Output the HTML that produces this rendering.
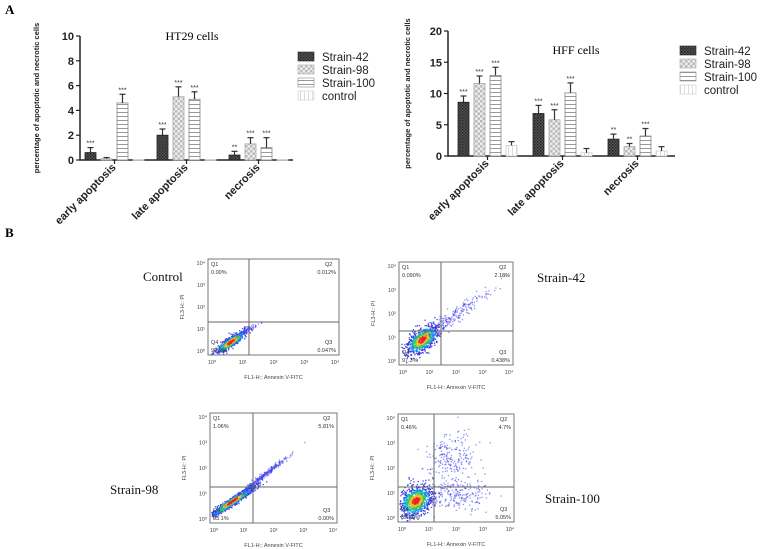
<!DOCTYPE html>
<html><head><meta charset="utf-8">
<style>
html,body{margin:0;padding:0;background:#fff;}
svg{display:block;font-family:"Liberation Sans",sans-serif;}
.serif{font-family:"Liberation Serif",serif;}
</style></head>
<body>
<svg id="fig" width="760" height="549" viewBox="0 0 760 549">
<defs>
<pattern id="p42" width="3" height="3" patternUnits="userSpaceOnUse"><rect width="3" height="3" fill="#555"/><rect width="1.5" height="1.5" fill="#222"/><rect x="1.5" y="1.5" width="1.5" height="1.5" fill="#333"/></pattern>
<pattern id="p98" width="5" height="5" patternUnits="userSpaceOnUse"><rect width="5" height="5" fill="#eee"/><rect width="2.5" height="2.5" fill="#bbb"/><rect x="2.5" y="2.5" width="2.5" height="2.5" fill="#bbb"/></pattern>
<pattern id="p100" width="4" height="4" patternUnits="userSpaceOnUse"><rect width="4" height="4" fill="#fff"/><rect width="4" height="1" fill="#999"/></pattern>
<pattern id="pctl" width="4" height="4" patternUnits="userSpaceOnUse"><rect width="4" height="4" fill="#fff"/><rect width="1" height="4" fill="#ddd"/></pattern>
</defs>
<text x="5" y="14" class="serif" font-size="13" font-weight="bold">A</text>
<text x="5" y="237" class="serif" font-size="13" font-weight="bold">B</text>
<g id="c1"></g>
<g id="c2"></g>
<g id="flows"></g>
</svg>
<script>
const categories = ["early apoptosis","late apoptosis","necrosis"];
const seriesNames = ["Strain-42","Strain-98","Strain-100","control"];
const ht29Values = [[0.6,2.0,0.4],[0.1,5.1,1.3],[4.6,4.9,1.0],[0.05,0.05,0.05]];
const ht29Errors = [[0.4,0.5,0.3],[0.1,0.8,0.5],[0.7,0.6,0.8],[0,0,0]];
const ht29Stars = [["***","***","**"],["","***","***"],["***","***","***"],["","",""]];
const ht29Ticks = [0,2,4,6,8,10];
const hffValues = [[8.6,6.8,2.7],[11.6,5.8,1.5],[12.9,10.1,3.2],[1.7,0.5,0.8]];
const hffErrors = [[1.0,1.3,0.8],[1.2,1.6,0.5],[1.3,1.6,1.2],[0.6,0.7,0.7]];
const hffStars = [["***","***","**"],["***","***","**"],["***","***","***"],["","",""]];
const hffTicks = [0,5,10,15,20];
const fills = ["url(#p42)","url(#p98)","url(#p100)","url(#pctl)"];
const strokes = ["#222","#aaa","#888","#ccc"];
const NS="http://www.w3.org/2000/svg";
function mk(parent,tag,attrs,txt){const e=document.createElementNS(NS,tag);for(const k in attrs)e.setAttribute(k,attrs[k]);if(txt!==undefined)e.textContent=txt;parent.appendChild(e);return e;}

function barChart(g,cfg,values,errors,stars,ticks){
  const y=v=>cfg.y0-(v/cfg.ymax)*(cfg.y0-cfg.ytop);
  const x=(c,s)=>cfg.x0+cfg.first+c*cfg.gstep+s*cfg.bstep;
  let t=mk(g,"text",{x:cfg.titleX,y:cfg.titleY,"font-size":12,"text-anchor":"middle","class":"serif"},cfg.title);
  
  
  let yl=mk(g,"text",{transform:`translate(${cfg.ylX},${(cfg.y0+cfg.ytop)/2}) rotate(-90)`,"font-size":7.5,"font-weight":"bold","text-anchor":"middle",fill:"#222"},"percentage of apoptotic and necrotic cells");
  
  
  let ax=mk(g,"path",{d:`M${cfg.x0},${cfg.ytop} V${cfg.y0} H${cfg.xend}`,stroke:"#222","stroke-width":1.5,fill:"none"});
  
  
  ticks.forEach(v=>{
    mk(g,"line",{x1:cfg.x0-4,x2:cfg.x0,y1:y(v),y2:y(v),stroke:"#222","stroke-width":1.2});
    let tl=mk(g,"text",{x:cfg.x0-6,y:y(v)+4,"font-size":11,"font-weight":"bold","text-anchor":"end",fill:"#222"},v);
    
    
  });
  categories.forEach((c,ci)=>{
    const cx=x(ci,0)+cfg.bstep*1.5+cfg.bw/2;
    mk(g,"line",{x1:cx,x2:cx,y1:cfg.y0,y2:cfg.y0+4,stroke:"#222","stroke-width":1.2});
    let cl=mk(g,"text",{transform:`translate(${cx+2},${cfg.y0+8}) rotate(-45)`,"font-size":11,"font-weight":"bold","text-anchor":"end",fill:"#222"},c);
    
    
  });
  values.forEach((ser,si)=>{ser.forEach((v,ci)=>{
    const bx=x(ci,si),top=y(v);
    let r=mk(g,"rect",{x:bx,y:top,width:cfg.bw,height:Math.max(cfg.y0-top,1),fill:fills[si],stroke:strokes[si],"stroke-width":0.8});
    
    
    const e=errors[si][ci];
    if(e>0){const ey=y(v+e);const mx=bx+cfg.bw/2;
      mk(g,"line",{x1:mx,x2:mx,y1:top,y2:ey,stroke:"#333","stroke-width":1.2});
      mk(g,"line",{x1:mx-3,x2:mx+3,y1:ey,y2:ey,stroke:"#333","stroke-width":1.2});}
    const s=stars[si][ci];
    if(s){let st=mk(g,"text",{x:bx+cfg.bw/2,y:y(v+e)-2,"font-size":7,"text-anchor":"middle",fill:"#333"},s);
      
      }
  });});
  seriesNames.forEach((n,si)=>{
    const ly=cfg.legY+si*13;
    let sw=mk(g,"rect",{x:cfg.legX,y:ly-5,width:16,height:9,fill:fills[si],stroke:strokes[si],"stroke-width":0.6});
    
    
    let lt=mk(g,"text",{x:cfg.legX+24,y:ly+4,"font-size":11.5,fill:"#222"},n);
    
    
  });
}
barChart(document.getElementById("c1"),{x0:80,y0:160,ytop:36,ymax:10,xend:293,first:5,gstep:72,bstep:16,bw:11,title:"HT29 cells",titleX:192,titleY:40,ylX:39,legX:298,legY:57},ht29Values,ht29Errors,ht29Stars,ht29Ticks);
barChart(document.getElementById("c2"),{x0:448,y0:156,ytop:31,ymax:20,xend:675,first:10,gstep:75,bstep:16,bw:11,title:"HFF cells",titleX:576,titleY:54,ylX:410,legX:680,legY:51},hffValues,hffErrors,hffStars,hffTicks);

// flow cytometry plots; blobs: [cx, cy, sx, sy, rho, n, heat]
const plots=[
 {name:"control",l:208,t:259,r:339,b:355,vx:249,hy:322,q:["0.00%","0.012%","0.047%","99.9%"],label:"Control",lx:143,ly:281,
  cloud:[[0.17,0.86,0.06,0.06,-0.9,700,1],[0.28,0.74,0.04,0.03,-0.8,60,0]]},
 {name:"strain-42",l:399,t:262,r:513,b:365,vx:441,hy:331,q:["0.090%","2.18%","0.438%","97.3%"],label:"Strain-42",lx:537,ly:282,
  cloud:[[0.2,0.75,0.07,0.07,-0.6,800,1],[0.5,0.5,0.15,0.12,-0.95,220,0]]},
 {name:"strain-98",l:210,t:413,r:337,b:523,vx:253,hy:487,q:["1.06%","5.81%","0.00%","93.1%"],label:"Strain-98",lx:110,ly:494,
  cloud:[[0.17,0.8,0.09,0.07,-0.96,900,1],[0.4,0.58,0.1,0.09,-0.99,350,0]]},
 {name:"strain-100",l:398,t:414,r:514,b:522,vx:434,hy:487,q:["0.46%","4.7%","5.05%","89.79%"],label:"Strain-100",lx:545,ly:503,
  cloud:[[0.15,0.8,0.07,0.07,-0.3,900,1],[0.45,0.4,0.11,0.12,0,220,0],[0.52,0.74,0.14,0.07,0,220,0]]}
];
let seed=7;function rnd(){seed=(seed*16807)%2147483647;return seed/2147483647;}
function gauss(){return Math.sqrt(-2*Math.log(rnd()+1e-9))*Math.cos(2*Math.PI*rnd());}
const fg=document.getElementById("flows");
plots.forEach(p=>{
  const g=mk(fg,"g",{});
  
  
  const W=p.r-p.l,H=p.b-p.t;
  p.cloud.forEach(c=>{
    const pts=[];
    for(let i=0;i<c[5];i++){
      const u=gauss(),v=gauss();
      const fx=c[0]+c[2]*u, fy=c[1]+c[3]*(c[4]*u+Math.sqrt(1-c[4]*c[4])*v);
      if(fx<0.01||fx>0.99||fy<0.01||fy>0.99)continue;
      const d=Math.sqrt(u*u+v*v);
      pts.push([fx,fy,d]);
    }
    pts.sort((a,b)=>b[2]-a[2]);
    pts.forEach(pt=>{
      const d=pt[2];
      const col=c[6]?(d<0.45?"#e22":d<0.8?"#eb2":d<1.15?"#3c5":d<1.6?"#19e":"#33d"):"#44e";
      mk(g,"rect",{x:p.l+pt[0]*W,y:p.t+pt[1]*H,width:1.3,height:1.3,fill:col,opacity:c[6]?0.9:0.6});
    });
  });
  mk(g,"rect",{x:p.l,y:p.t,width:W,height:H,fill:"none",stroke:"#777","stroke-width":1});
  mk(g,"line",{x1:p.vx,x2:p.vx,y1:p.t,y2:p.b,stroke:"#666","stroke-width":1});
  mk(g,"line",{x1:p.l,x2:p.r,y1:p.hy,y2:p.hy,stroke:"#666","stroke-width":1});
  const fs=5.5;
  [["Q1",p.l+3,p.t+7],["Q2",p.r-14,p.t+7]].forEach(a=>mk(g,"text",{x:a[1],y:a[2],"font-size":fs,fill:"#333"},a[0]));
  mk(g,"text",{x:p.l+3,y:p.t+15,"font-size":fs,fill:"#333"},p.q[0]);
  mk(g,"text",{x:p.r-3,y:p.t+15,"font-size":fs,fill:"#333","text-anchor":"end"},p.q[1]);
  mk(g,"text",{x:p.r-14,y:p.b-11,"font-size":fs,fill:"#333"},"Q3");
  mk(g,"text",{x:p.r-3,y:p.b-3,"font-size":fs,fill:"#333","text-anchor":"end"},p.q[2]);
  mk(g,"text",{x:p.l+3,y:p.b-11,"font-size":fs,fill:"#333"},"Q4");
  mk(g,"text",{x:p.l+3,y:p.b-3,"font-size":fs,fill:"#333"},p.q[3]);
  for(let k=0;k<5;k++){
    const xx=p.l+4+k*(W-8)/4, yy=p.b-4-k*(H-8)/4;
    mk(g,"text",{x:xx,y:p.b+9,"font-size":5.5,fill:"#444","text-anchor":"middle"},"10"+["⁰","¹","²","³","⁴"][k]);
    mk(g,"text",{x:p.l-3,y:yy+2,"font-size":5.5,fill:"#444","text-anchor":"end"},"10"+["⁰","¹","²","³","⁴"][k]);
  }
  let xl=mk(g,"text",{x:(p.l+p.r)/2,y:p.b+24,"font-size":5.5,fill:"#444","text-anchor":"middle"},"FL1-H:: Annexin V-FITC");
  
  
  let yl=mk(g,"text",{transform:`translate(${p.l-24},${(p.t+p.b)/2}) rotate(-90)`,"font-size":5.5,fill:"#444","text-anchor":"middle"},"FL3-H:: PI");
  
  
  let lb=mk(fg,"text",{x:p.lx,y:p.ly,"font-size":13,"class":"serif",fill:"#111"},p.label);
  
  
});
</script>
</body></html>
